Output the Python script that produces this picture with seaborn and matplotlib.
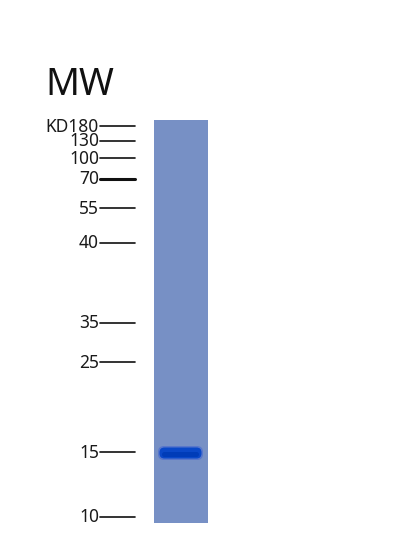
import matplotlib
matplotlib.use("Agg")
import matplotlib.pyplot as plt
import pandas as pd
import seaborn as sns
from matplotlib.patches import FancyBboxPatch, Rectangle

# marker ladder (labels and migration position in px from top of image)
ladder_labels = ["KD180", "130", "100", "70", "55", "40", "35", "25", "15", "10"]
ladder_pos = [126, 141, 158, 179, 208, 243, 323, 362, 452, 517]
ladder_bold = ["70"]

# sample lane: one band
band_pos = [453]
band_label = ["15"]

sns.set_theme(style="white")
plt.rcParams["font.family"] = ["Noto Sans", "DejaVu Sans"]

fig = plt.figure(figsize=(4.0, 5.47), dpi=100)
ax = fig.add_axes([0, 0, 1, 1])
ax.set_xlim(0, 400)
ax.set_ylim(547, 0)
ax.axis("off")

# ladder ticks drawn through seaborn
df = pd.DataFrame({
    "label": ladder_labels * 2,
    "pos": ladder_pos * 2,
    "x": [99.5] * len(ladder_labels) + [135] * len(ladder_labels),
})
df["bold"] = df["label"].isin(ladder_bold)
sns.lineplot(data=df[~df["bold"]], x="x", y="pos", units="label",
             estimator=None, color="#111111", lw=1.2, ax=ax, sort=False)
sns.lineplot(data=df[df["bold"]], x="x", y="pos", units="label",
             estimator=None, color="#111111", lw=2.2, ax=ax, sort=False)

for lab, y in zip(ladder_labels, ladder_pos):
    ax.text(99, y + 0.5, lab, ha="right", va="center", fontsize=12.5,
            fontweight="bold" if lab in ladder_bold else "normal",
            color="#1a1a1a")

ax.text(45, 85, "MW", ha="left", va="center", fontsize=27, color="#111111")

# lane
ax.add_patch(Rectangle((154, 120), 54, 403, facecolor="#7790c5",
                       edgecolor="none", zorder=1))

# band
for y in band_pos:
    ax.add_patch(FancyBboxPatch((158, y - 7), 45, 14,
                                boxstyle="round,pad=0,rounding_size=6",
                                facecolor="#5877cc", edgecolor="none", zorder=2))
    ax.add_patch(FancyBboxPatch((159.5, y - 5.5), 42, 11,
                                boxstyle="round,pad=0,rounding_size=5",
                                facecolor="#0a48c8", edgecolor="none", zorder=3))
    ax.add_patch(FancyBboxPatch((162, y - 1), 37, 5,
                                boxstyle="round,pad=0,rounding_size=2.5",
                                facecolor="#003cb8", edgecolor="none", zorder=4))

fig.savefig("out.png", dpi=100)
